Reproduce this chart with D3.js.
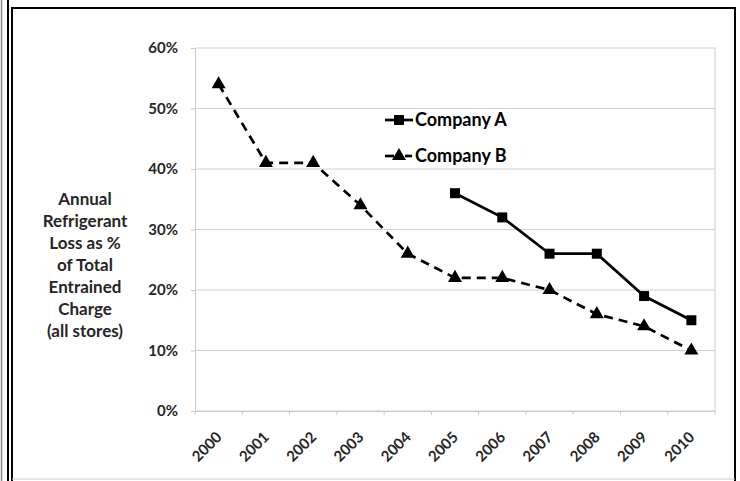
<!DOCTYPE html>
<html>
<head>
<meta charset="utf-8">
<script src="https://cdn.jsdelivr.net/npm/d3@7"></script>
<style>
  body { margin: 0; background: #fff; }
  svg { display: block; font-family: Lato, "Open Sans", sans-serif; font-weight: bold; }
  .tick text { fill: #262626; }
</style>
</head>
<body>
<svg id="chart"></svg>
<script>
// chart data
const years = ['2000','2001','2002','2003','2004','2005','2006','2007','2008','2009','2010'];
const companyA = [null, null, null, null, null, 0.36, 0.32, 0.26, 0.26, 0.19, 0.15];
const companyB = [0.54, 0.41, 0.41, 0.34, 0.26, 0.22, 0.22, 0.20, 0.16, 0.14, 0.10];
const yTicks = [0, 0.1, 0.2, 0.3, 0.4, 0.5, 0.6];
const yTitle = ['Annual', 'Refrigerant', 'Loss as %', 'of Total', 'Entrained', 'Charge', '(all stores)'];
const seriesNames = ['Company A', 'Company B'];

const W = 740, H = 481;
const margin = {top: 48, right: 25, bottom: 70, left: 195};
const width = W - margin.left - margin.right;
const height = H - margin.top - margin.bottom;

const svg = d3.select('#chart').attr('width', W).attr('height', H);

// outer frame (page borders)
svg.append('line').attr('x1', 1.5).attr('x2', 1.5).attr('y1', 0).attr('y2', H)
  .attr('stroke', '#888').attr('stroke-width', 1.5);
svg.append('line').attr('x1', 8).attr('x2', 8).attr('y1', 0).attr('y2', H)
  .attr('stroke', '#000').attr('stroke-width', 2);
svg.append('line').attr('x1', 12).attr('x2', 12).attr('y1', 7).attr('y2', H)
  .attr('stroke', '#000').attr('stroke-width', 2);
svg.append('line').attr('x1', 11).attr('x2', 736).attr('y1', 8).attr('y2', 8)
  .attr('stroke', '#000').attr('stroke-width', 2);
svg.append('line').attr('x1', 735).attr('x2', 735).attr('y1', 7).attr('y2', H)
  .attr('stroke', '#000').attr('stroke-width', 2);
svg.append('line').attr('x1', 12).attr('x2', 735).attr('y1', 479).attr('y2', 479)
  .attr('stroke', '#ccc').attr('stroke-width', 1);

const chart = svg.append('g').attr('transform', `translate(${margin.left},${margin.top})`);

const x = d3.scaleBand().domain(years).range([0, width]).padding(0);
const y = d3.scaleLinear().domain([0, 0.6]).range([height, 0]);
const cx = d => x(d) + x.bandwidth() / 2;

// gridlines
chart.append('g').selectAll('line').data(yTicks).join('line')
  .attr('x1', 0).attr('x2', width)
  .attr('y1', d => y(d)).attr('y2', d => y(d))
  .attr('stroke', '#d0d0d0').attr('stroke-width', 1);
chart.append('line').attr('x1', width).attr('x2', width).attr('y1', 0).attr('y2', height)
  .attr('stroke', '#d0d0d0');

// y axis
const yAxisG = chart.append('g')
  .call(d3.axisLeft(y).tickValues(yTicks).tickFormat(d3.format('.0%')).tickSize(4).tickPadding(13))
  .attr('font-family', null).attr('font-size', 15);
yAxisG.select('.domain').attr('stroke', '#c8c8c8');
yAxisG.selectAll('.tick line').attr('stroke', '#c8c8c8');
yAxisG.selectAll('.tick text').attr('font-weight', 'bold');

// x axis, ticks between categories
const xAxisG = chart.append('g').attr('transform', `translate(0,${height})`)
  .call(d3.axisBottom(x).tickSize(0).tickFormat(d => d))
  .attr('font-family', null).attr('font-size', 15);
xAxisG.select('.domain').attr('stroke', '#c8c8c8');
xAxisG.selectAll('.tick text')
  .attr('font-weight', 'bold')
  .attr('text-anchor', 'end')
  .attr('dy', 0)
  .attr('transform', 'translate(2,25) rotate(-45)');
chart.append('g').attr('transform', `translate(0,${height})`)
  .selectAll('line').data(years.concat(['end'])).join('line')
  .attr('x1', (d, i) => i * x.bandwidth()).attr('x2', (d, i) => i * x.bandwidth())
  .attr('y1', 0).attr('y2', 4)
  .attr('stroke', '#c8c8c8');

// y title
svg.append('text')
  .attr('x', 85).attr('y', 205)
  .attr('text-anchor', 'middle')
  .attr('font-size', 17)
  .attr('fill', '#262626')
  .selectAll('tspan').data(yTitle).join('tspan')
  .attr('x', 85).attr('dy', (d, i) => i === 0 ? 0 : 22)
  .text(d => d);

// lines
const line = d3.line()
  .defined(d => d.v !== null)
  .x(d => cx(d.year))
  .y(d => y(d.v));
const dataA = years.map((yr, i) => ({year: yr, v: companyA[i]}));
const dataB = years.map((yr, i) => ({year: yr, v: companyB[i]}));

chart.append('path').datum(dataB).attr('d', line)
  .attr('fill', 'none').attr('stroke', '#000').attr('stroke-width', 2.7)
  .attr('stroke-dasharray', '9,6');
chart.append('path').datum(dataA).attr('d', line)
  .attr('fill', 'none').attr('stroke', '#000').attr('stroke-width', 2.7);

const tri = d3.symbol().type(d3.symbolTriangle).size(85);
chart.append('g').selectAll('path').data(dataB.filter(d => d.v !== null)).join('path')
  .attr('d', tri)
  .attr('transform', d => `translate(${cx(d.year)},${y(d.v)})`)
  .attr('fill', '#000');
chart.append('g').selectAll('rect').data(dataA.filter(d => d.v !== null)).join('rect')
  .attr('x', d => cx(d.year) - 5).attr('y', d => y(d.v) - 5)
  .attr('width', 10).attr('height', 10)
  .attr('fill', '#000');

// legend
const legend = svg.append('g').attr('transform', 'translate(385,0)');
const legRows = [120, 156];
legend.append('line').attr('x1', 0).attr('x2', 28).attr('y1', legRows[0]).attr('y2', legRows[0])
  .attr('stroke', '#000').attr('stroke-width', 2.7);
legend.append('rect').attr('x', 9).attr('y', legRows[0] - 5).attr('width', 10).attr('height', 10).attr('fill', '#000');
legend.append('line').attr('x1', 0).attr('x2', 9).attr('y1', legRows[1]).attr('y2', legRows[1])
  .attr('stroke', '#000').attr('stroke-width', 2.7);
legend.append('line').attr('x1', 20).attr('x2', 27).attr('y1', legRows[1]).attr('y2', legRows[1])
  .attr('stroke', '#000').attr('stroke-width', 2.7);
legend.append('path').attr('d', tri).attr('transform', `translate(14,${legRows[1]})`).attr('fill', '#000');
legend.selectAll('text').data(seriesNames).join('text')
  .attr('x', 30).attr('y', (d, i) => legRows[i])
  .attr('dy', '0.35em')
  .attr('font-size', 18)
  .attr('fill', '#000')
  .text(d => d);
</script>
</body>
</html>
